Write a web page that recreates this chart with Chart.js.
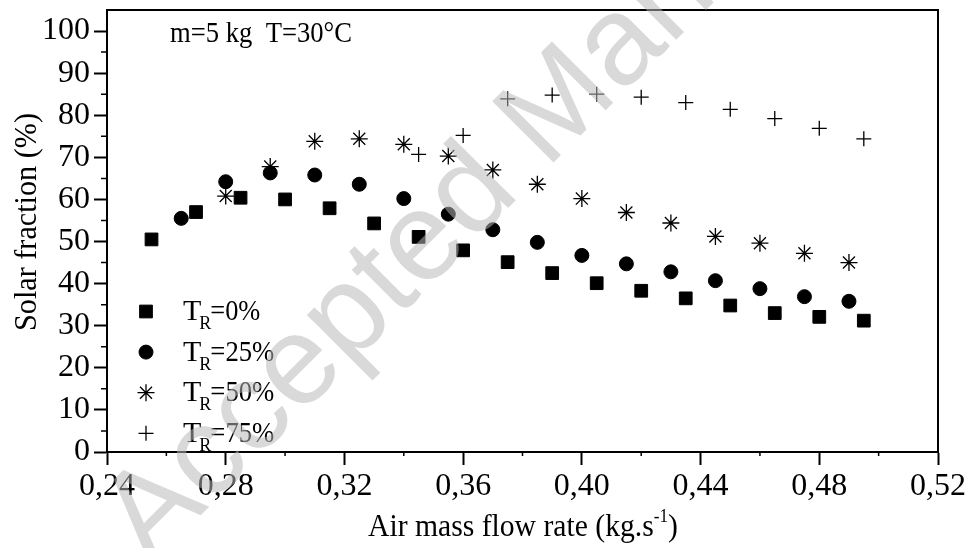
<!DOCTYPE html>
<html><head><meta charset="utf-8">
<script src="https://cdn.jsdelivr.net/npm/chart.js@4.4.0/dist/chart.umd.min.js"></script>
<style>html,body{margin:0;padding:0;background:#fff}#wrap{width:971px;height:548px}</style>
</head><body><div id="wrap"><canvas id="c" width="971" height="548"></canvas></div>
<script>
// ---- data ----
const xTicks = [0.24, 0.28, 0.32, 0.36, 0.40, 0.44, 0.48, 0.52];
const yTicks = [0, 10, 20, 30, 40, 50, 60, 70, 80, 90, 100];
const seriesNames = ['T_R=0%', 'T_R=25%', 'T_R=50%', 'T_R=75%'];
const seriesPercent = ['0%', '25%', '50%', '75%'];
const x0 = [0.255, 0.27, 0.285, 0.30, 0.315, 0.33, 0.345, 0.36, 0.375, 0.39, 0.405, 0.42, 0.435, 0.45, 0.465, 0.48, 0.495];
const y0 = [50.5, 57.0, 60.4, 60.0, 57.9, 54.3, 51.1, 47.9, 45.1, 42.5, 40.1, 38.3, 36.5, 34.8, 33.0, 32.1, 31.2];
const x1 = [0.265, 0.28, 0.295, 0.31, 0.325, 0.34, 0.355, 0.37, 0.385, 0.40, 0.415, 0.43, 0.445, 0.46, 0.475, 0.49];
const y1 = [55.5, 64.2, 66.3, 65.8, 63.6, 60.2, 56.5, 52.8, 49.8, 46.7, 44.7, 42.8, 40.7, 38.8, 36.9, 35.8];
const x2 = [0.28, 0.295, 0.31, 0.325, 0.34, 0.355, 0.37, 0.385, 0.40, 0.415, 0.43, 0.445, 0.46, 0.475, 0.49];
const y2 = [60.8, 67.8, 73.8, 74.4, 73.1, 70.3, 67.0, 63.6, 60.2, 56.9, 54.4, 51.2, 49.6, 47.2, 45.0];
const x3 = [0.345, 0.36, 0.375, 0.39, 0.405, 0.42, 0.435, 0.45, 0.465, 0.48, 0.495];
const y3 = [70.7, 75.2, 83.9, 84.8, 85.0, 84.3, 83.0, 81.4, 79.2, 76.9, 74.4];
const annotationText = 'm=5 kg  T=30°C';
const xTitleMain = 'Air mass flow rate (kg.s';
const xTitleSup = '-1';
const xTitleEnd = ')';
const yTitle = 'Solar fraction (%)';
const watermark = 'Accepted Manuscript';

const SERIF = '"Liberation Serif", "Times New Roman", serif';
const pts = (xs, ys) => xs.map((v, i) => ({x: v, y: ys[i]}));
const styles = [
  {pointStyle: 'rect', radius: 9, borderWidth: 1},
  {pointStyle: 'circle', radius: 7, borderWidth: 1},
  {pointStyle: 'star', radius: 8.5, borderWidth: 1.3},
  {pointStyle: 'cross', radius: 7.5, borderWidth: 1.3}
];
const seriesData = [pts(x0, y0), pts(x1, y1), pts(x2, y2), pts(x3, y3)];

const datasets = seriesData.map((d, i) => ({
  label: seriesNames[i],
  data: d,
  showLine: false,
  pointStyle: styles[i].pointStyle,
  pointRadius: styles[i].radius,
  pointHoverRadius: styles[i].radius,
  pointBorderWidth: styles[i].borderWidth,
  pointBackgroundColor: '#000',
  pointBorderColor: '#000',
  backgroundColor: '#000',
  borderColor: '#000'
}));

function drawMarker(ctx, st, x, y) {
  ctx.save();
  ctx.fillStyle = '#000'; ctx.strokeStyle = '#000'; ctx.lineWidth = st.borderWidth;
  if (Chart.helpers && Chart.helpers.drawPoint) {
    Chart.helpers.drawPoint(ctx, {pointStyle: st.pointStyle, radius: st.radius, borderWidth: st.borderWidth, rotation: 0}, x, y);
  }
  ctx.restore();
}

const deco = {
  id: 'deco',
  afterDraw(chart) {
    const {ctx, chartArea: a, scales} = chart;
    const xs = scales.x, ys = scales.y;
    ctx.save();
    // frame
    ctx.strokeStyle = '#000'; ctx.lineWidth = 2;
    ctx.strokeRect(a.left, a.top, a.right - a.left, a.bottom - a.top);
    // minor ticks
    ctx.lineWidth = 1.5;
    ctx.beginPath();
    for (let i = 0; i < xTicks.length - 1; i++) {
      const px = xs.getPixelForValue((xTicks[i] + xTicks[i + 1]) / 2);
      ctx.moveTo(px, a.bottom); ctx.lineTo(px, a.bottom + 4);
    }
    for (let i = 0; i < yTicks.length - 1; i++) {
      const py = ys.getPixelForValue((yTicks[i] + yTicks[i + 1]) / 2);
      ctx.moveTo(a.left, py); ctx.lineTo(a.left - 6, py);
    }
    ctx.stroke();
    ctx.fillStyle = '#000';
    ctx.textBaseline = 'alphabetic';
    // annotation
    ctx.font = '29px ' + SERIF;
    ctx.textAlign = 'left';
    ctx.fillText(annotationText, a.left + 63, a.top + 32, 182);
    // legend
    for (let i = 0; i < seriesNames.length; i++) {
      const ry = a.top + 301.5 + i * 40.6;
      drawMarker(ctx, styles[i], a.left + 39, ry);
      let tx = a.left + 76;
      const by = ry + 8.5;
      ctx.font = '30px ' + SERIF;
      ctx.fillText('T', tx, by);
      tx += ctx.measureText('T').width - 2;
      ctx.font = '18px ' + SERIF;
      ctx.fillText('R', tx, by + 9);
      tx += ctx.measureText('R').width - 1;
      ctx.font = '30px ' + SERIF;
      ctx.fillText('=' + seriesPercent[i], tx, by, 50 + (seriesPercent[i].length - 2) * 14);
    }
    // x title
    ctx.font = '31px ' + SERIF;
    const w1 = ctx.measureText(xTitleMain).width;
    ctx.font = '18px ' + SERIF;
    const w2 = ctx.measureText(xTitleSup).width;
    ctx.font = '31px ' + SERIF;
    const w3 = ctx.measureText(xTitleEnd).width;
    const natural = w1 + w2 + w3;
    const target = 310;
    const k = target / natural;
    ctx.save();
    ctx.translate(523 - target / 2, 536);
    ctx.scale(k, 1);
    let sx = 0;
    ctx.fillText(xTitleMain, sx, 0); sx += w1;
    ctx.font = '18px ' + SERIF;
    ctx.fillText(xTitleSup, sx, -14); sx += w2;
    ctx.font = '31px ' + SERIF;
    ctx.fillText(xTitleEnd, sx, 0);
    ctx.restore();
    // y title
    ctx.save();
    ctx.translate(36, 222);
    ctx.rotate(-Math.PI / 2);
    ctx.textAlign = 'center';
    ctx.font = '31px ' + SERIF;
    ctx.fillText(yTitle, 0, 0, 218);
    ctx.restore();
    // watermark
    ctx.save();
    ctx.translate(150, 566);
    ctx.rotate(-Math.PI / 4);
    ctx.font = '126px "Liberation Sans", Arial, sans-serif';
    ctx.fillStyle = 'rgba(183,183,183,0.53)';
    ctx.textAlign = 'left';
    ctx.fillText(watermark, 0, 0);
    ctx.restore();
    ctx.restore();
  }
};

const fmtX = v => Number(v).toFixed(2).replace('.', ',');

new Chart(document.getElementById('c'), {
  type: 'scatter',
  data: {datasets},
  options: {
    responsive: false,
    animation: false,
    devicePixelRatio: 1,
    layout: {padding: {top: 10, right: 33, left: 0, bottom: 0}},
    plugins: {legend: {display: false}, tooltip: {enabled: false}},
    scales: {
      x: {
        type: 'linear', min: xTicks[0], max: xTicks[xTicks.length - 1],
        afterBuildTicks: s => { s.ticks = xTicks.map(v => ({value: v})); },
        afterFit: s => { s.height = 96; s.paddingLeft = 0; s.paddingRight = 0; },
        ticks: {callback: fmtX, color: '#000', font: {family: SERIF, size: 32}, padding: 2, maxRotation: 0, autoSkip: false},
        grid: {drawOnChartArea: false, drawTicks: true, tickLength: 13, tickWidth: 2, tickColor: '#000', color: '#000'},
        border: {display: true, color: '#000', width: 2}
      },
      y: {
        type: 'linear', min: 0, max: 105,
        afterBuildTicks: s => { s.ticks = yTicks.map(v => ({value: v})); },
        afterFit: s => { s.width = 107; s.paddingTop = 0; s.paddingBottom = 0; },
        ticks: {color: '#000', font: {family: SERIF, size: 32}, padding: 4, autoSkip: false},
        grid: {drawOnChartArea: false, drawTicks: true, tickLength: 13, tickWidth: 2, tickColor: '#000', color: '#000'},
        border: {display: true, color: '#000', width: 2}
      }
    }
  },
  plugins: [deco]
});
</script>
</body></html>
